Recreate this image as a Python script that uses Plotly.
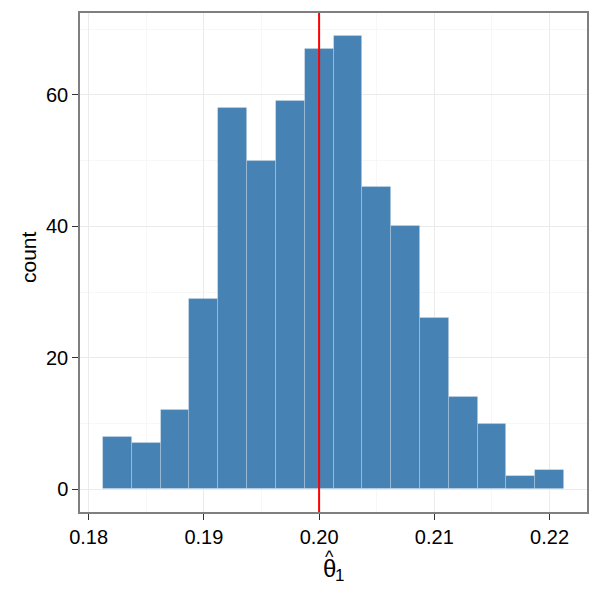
import plotly.graph_objects as go

# Histogram bins (centers) and counts
bin_centers = [0.1825, 0.1850, 0.1875, 0.1900, 0.1925, 0.1950, 0.1975, 0.2000,
               0.2025, 0.2050, 0.2075, 0.2100, 0.2125, 0.2150, 0.2175, 0.2200]
counts = [8, 7, 12, 29, 58, 50, 59, 67, 69, 46, 40, 26, 14, 10, 2, 3]
bin_width = 0.0025
true_value = 0.2

x_ticks = [0.18, 0.19, 0.20, 0.21, 0.22]
x_ticklabels = ["0.18", "0.19", "0.20", "0.21", "0.22"]
y_ticks = [0, 20, 40, 60]

FONT = "Liberation Sans, Arial, Helvetica, sans-serif"

fig = go.Figure()
fig.add_trace(go.Bar(
    x=bin_centers, y=counts, width=bin_width,
    marker=dict(color="#4682B4", line=dict(color="rgba(255,255,255,0.28)", width=0.8)),
    showlegend=False, hoverinfo="x+y",
))

fig.add_shape(type="line", xref="x", yref="paper", x0=true_value, x1=true_value,
              y0=0, y1=1, line=dict(color="#FF0000", width=2))

# Axis titles as annotations (theta-hat with subscript 1, and "count")
fig.add_annotation(text="θ", xref="paper", yref="paper", x=0.4922, y=-0.114,
                   xanchor="center", yanchor="middle", showarrow=False,
                   font=dict(size=24, color="black", family=FONT))
fig.add_annotation(text="1", xref="paper", yref="paper", x=0.5125, y=-0.127,
                   xanchor="center", yanchor="middle", showarrow=False,
                   font=dict(size=17, color="black", family=FONT))
fig.add_annotation(text="^", xref="paper", yref="paper", x=0.4915, y=-0.090,
                   xanchor="center", yanchor="middle", showarrow=False,
                   font=dict(size=18, color="black", family=FONT))
fig.add_annotation(text="count", xref="paper", yref="paper", x=-0.1026, y=0.511,
                   xanchor="center", yanchor="middle", textangle=-90, showarrow=False,
                   font=dict(size=21, color="black", family=FONT))

fig.update_layout(
    width=600, height=600,
    margin=dict(l=80, r=13, t=13, b=88),
    plot_bgcolor="white", paper_bgcolor="white",
    font=dict(family=FONT, color="black", size=20),
    bargap=0,
)
fig.update_xaxes(
    range=[0.17925, 0.22325],
    tickvals=x_ticks, ticktext=x_ticklabels,
    ticks="outside", ticklen=6, tickwidth=1.3, tickcolor="#333333",
    tickfont=dict(size=20, color="black"),
    showline=True, linecolor="#7F7F7F", linewidth=1.5, mirror=True,
    showgrid=True, gridcolor="#EBEBEB", gridwidth=1,
    minor=dict(tick0=0.18, dtick=0.005, showgrid=True, gridcolor="#F7F7F7", gridwidth=1, ticks=""),
    zeroline=False,
)
fig.update_yaxes(
    range=[-3.45, 72.45],
    tickvals=y_ticks,
    ticks="outside", ticklen=6, tickwidth=1.3, tickcolor="#333333",
    tickfont=dict(size=20, color="black"),
    showline=True, linecolor="#7F7F7F", linewidth=1.5, mirror=True,
    showgrid=True, gridcolor="#EBEBEB", gridwidth=1,
    minor=dict(tick0=0, dtick=10, showgrid=True, gridcolor="#F7F7F7", gridwidth=1, ticks=""),
    zeroline=False,
)

fig.write_html("out.html")
